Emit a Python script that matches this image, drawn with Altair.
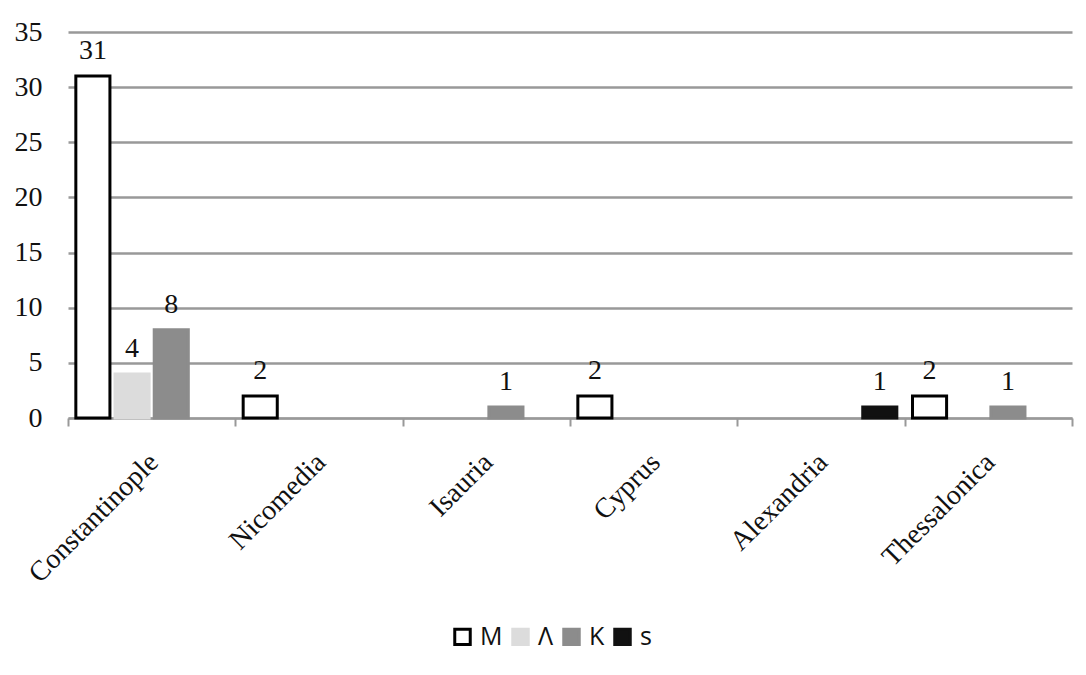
import altair as alt
import pandas as pd

categories = ["Constantinople", "Nicomedia", "Isauria", "Cyprus", "Alexandria", "Thessalonica"]
series = ["M", "Λ", "K", "s"]
M = [31, 2, 0, 2, 0, 2]
L = [4, 0, 0, 0, 0, 0]
K = [8, 0, 1, 0, 0, 1]
S = [0, 0, 0, 0, 1, 0]

rows = []
for name, vals in zip(series, [M, L, K, S]):
    for c, v in zip(categories, vals):
        if v > 0:
            rows.append({"place": c, "series": name, "value": v})
df = pd.DataFrame(rows)

fills = ["#ffffff", "#dcdcdc", "#8c8c8c", "#111111"]
strokes = ["#000000", "#dcdcdc", "#8c8c8c", "#111111"]

x = alt.X("place:N", sort=categories, scale=alt.Scale(domain=categories, paddingInner=0, paddingOuter=0),
          axis=alt.Axis(title=None, labelAngle=-45, labelAlign="right", labelBaseline="top",
                        labelFont="Liberation Serif", labelFontSize=28, labelColor="#111",
                        tickBand="extent", tickSize=8, tickColor="#999", tickWidth=2,
                        domainColor="#999", domainWidth=2, labelPadding=22, labelOffset=-8, grid=False))
xo = alt.XOffset("series:N", sort=series, scale=alt.Scale(domain=series, paddingInner=0.13, paddingOuter=0.2))
y = alt.Y("value:Q", scale=alt.Scale(domain=[0, 35]),
          axis=alt.Axis(title=None, values=[0, 5, 10, 15, 20, 25, 30, 35], ticks=False, domain=False,
                        labelFont="Liberation Serif", labelFontSize=28, labelColor="#111", labelPadding=26,
                        gridColor="#999", gridWidth=2.5))

bars = alt.Chart(df).mark_bar(strokeWidth=3).encode(
    x=x, xOffset=xo, y=y,
    fill=alt.Fill("series:N", sort=series, scale=alt.Scale(domain=series, range=fills),
                  legend=alt.Legend(title=None, orient="none", legendX=382, legendY=592, direction="horizontal",
                                    labelFont="Open Sans", labelFontSize=25, labelColor="#111",
                                    symbolType="square", symbolSize=240, symbolStrokeWidth=3,
                                    columnPadding=3, labelOffset=5)),
    stroke=alt.Stroke("series:N", sort=series, scale=alt.Scale(domain=series, range=strokes), legend=None),
)

labels = alt.Chart(df).mark_text(baseline="bottom", dy=-11, font="Liberation Serif", fontSize=28, color="#111").encode(
    x=x, xOffset=xo, y=y, text="value:Q"
)

chart = alt.layer(bars, labels).properties(
    width=1004, height=386,
    autosize=alt.AutoSizeParams(type="none"),
    padding={"left": 60, "top": 24, "right": 4, "bottom": 240},
).configure_view(stroke=None)

chart.save("out.html", embed_options={"renderer": "svg", "actions": False})
